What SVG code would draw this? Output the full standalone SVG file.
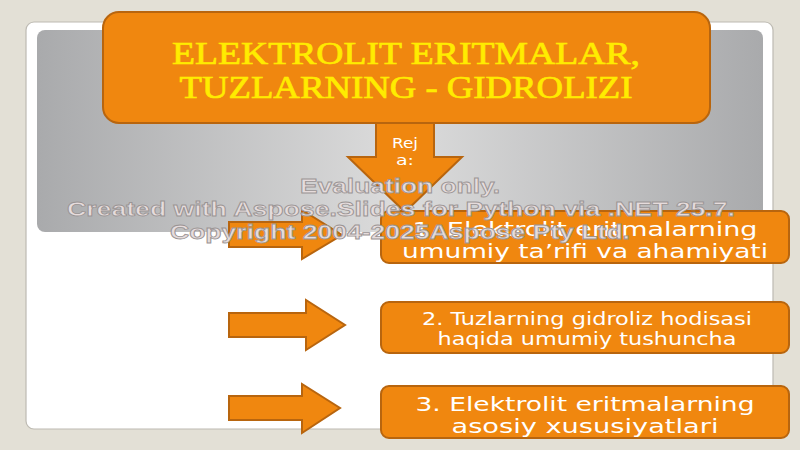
<svg xmlns="http://www.w3.org/2000/svg" width="800" height="450" viewBox="0 0 800 450">
  <defs>
    <linearGradient id="panelGrad" x1="0" y1="0" x2="1" y2="0">
      <stop offset="0" stop-color="#a9aaac"/>
      <stop offset="0.5" stop-color="#dcdcdc"/>
      <stop offset="1" stop-color="#a9aaac"/>
    </linearGradient>
  </defs>
  <style>
    .orange { fill: #f0870f; stroke: #b8650e; stroke-width: 2; }
    .boxtext { font-family: "DejaVu Sans", Verdana, sans-serif; fill: #ffffff; text-anchor: middle; }
    .title { font-family: "Liberation Serif", "DejaVu Serif", serif; font-weight: normal; fill: #ffec00; stroke: #ffec00; stroke-width: 0.7; text-anchor: middle; font-size: 32px; }
    .wm { font-family: "Liberation Sans", Arial, sans-serif; font-weight: bold; font-size: 20px; fill: #e6dcdc; stroke: #9a9494; stroke-width: 0.8; text-anchor: middle; }
  </style>

  <rect x="0" y="0" width="800" height="450" fill="#e3e0d6"/>
  <g id="card">
    <rect x="26" y="22" width="747" height="407" rx="8" fill="#ffffff" stroke="#bdbab2" stroke-width="1.2"/>
    <rect x="37" y="30" width="726" height="202" rx="8" fill="url(#panelGrad)"/>
  </g>

  <g id="connectors">
    <path id="down-arrow" class="orange" d="M376,120 L434,120 L434,157 L462,157 L405,212 L348,157 L376,157 Z"/>
    <path id="arrow1" class="orange" d="M229,222 L302,222 L302,210 L342,235 L302,259 L302,247 L229,247 Z"/>
    <path id="arrow2" class="orange" d="M229,313 L306,313 L306,300 L345,325 L306,350 L306,337 L229,337 Z"/>
    <path id="arrow3" class="orange" d="M229,396 L302,396 L302,384 L340,408 L302,433 L302,420 L229,420 Z"/>
  </g>

  <g id="title">
    <rect x="103" y="12" width="607" height="111" rx="16" class="orange"/>
    <text class="title" x="406" y="64" textLength="468" lengthAdjust="spacingAndGlyphs">ELEKTROLIT ERITMALAR,</text>
    <text class="title" x="406" y="98" textLength="453" lengthAdjust="spacingAndGlyphs">TUZLARNING - GIDROLIZI</text>
  </g>

  <g id="reja">
    <text class="boxtext" x="405" y="148" font-size="14" textLength="26" lengthAdjust="spacingAndGlyphs">Rej</text>
    <text class="boxtext" x="405" y="165" font-size="14" textLength="18" lengthAdjust="spacingAndGlyphs">a:</text>
  </g>

  <g id="box1">
    <rect x="381" y="211" width="408" height="52" rx="8" class="orange"/>
    <text class="boxtext" x="585" y="236" font-size="20" textLength="345" lengthAdjust="spacingAndGlyphs">1. Elektrolit eritmalarning</text>
    <text class="boxtext" x="585" y="258" font-size="20" textLength="366" lengthAdjust="spacingAndGlyphs">umumiy ta’rifi va ahamiyati</text>
  </g>

  <g id="box2">
    <rect x="381" y="302" width="408" height="51" rx="8" class="orange"/>
    <text class="boxtext" x="587" y="325" font-size="17" textLength="330" lengthAdjust="spacingAndGlyphs">2. Tuzlarning gidroliz hodisasi</text>
    <text class="boxtext" x="587" y="345" font-size="17" textLength="299" lengthAdjust="spacingAndGlyphs">haqida umumiy tushuncha</text>
  </g>

  <g id="box3">
    <rect x="381" y="386" width="408" height="52" rx="8" class="orange"/>
    <text class="boxtext" x="585" y="411" font-size="20" textLength="339" lengthAdjust="spacingAndGlyphs">3. Elektrolit eritmalarning</text>
    <text class="boxtext" x="585" y="433" font-size="20" textLength="267" lengthAdjust="spacingAndGlyphs">asosiy xususiyatlari</text>
  </g>

  <g id="watermark">
    <text class="wm" x="400" y="193" textLength="200" lengthAdjust="spacingAndGlyphs">Evaluation only.</text>
    <text class="wm" x="401" y="216" textLength="668" lengthAdjust="spacingAndGlyphs">Created with Aspose.Slides for Python via .NET 25.7.</text>
    <text class="wm" x="400" y="239" textLength="460" lengthAdjust="spacingAndGlyphs">Copyright 2004-2025Aspose Pty Ltd.</text>
  </g>
</svg>
